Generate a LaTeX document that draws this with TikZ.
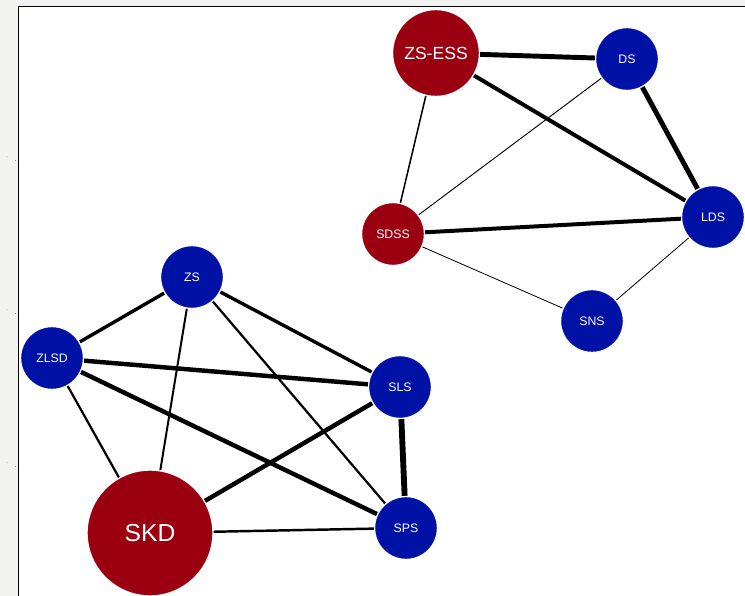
\documentclass[tikz,border=0pt]{standalone}
\usepackage{fontspec}
\setmainfont{Liberation Sans}
\definecolor{hubred}{HTML}{9B0010}
\definecolor{nodeblue}{HTML}{0012A6}
\definecolor{panelgrey}{HTML}{F2F2F0}

\tikzset{
  group/.style={circle, draw=white, line width=1.2pt, text=white, inner sep=0pt},
  member/.style={group, fill=nodeblue, minimum size=1.89cm, font=\fontsize{10.5}{12}\selectfont},
  hub/.style={group, fill=hubred},
}

\begin{document}
\begin{tikzpicture}[x=0.03cm, y=-0.03cm]

  % panel
  \useasboundingbox (0,0) rectangle (745,596);
  \fill[panelgrey] (0,0) rectangle (745,596);
  \fill[white] (18.5,6.5) rectangle (745,596);
  \draw[line width=1.7pt] (18.5,6.5) -- (745,6.5);
  \draw[line width=1.1pt] (18.5,6.5) -- (18.5,596);
  \foreach \y in {157,310,463} {
      \fill[gray] (7,\y) circle (0.5);
      \fill[gray] (15.7,\y+3.5) circle (0.5);
    }

  % upper cluster
  \node[hub, minimum size=2.61cm, font=\fontsize{15}{18}\selectfont] (zsess) at (436,53) {ZS-ESS};
  \node[member] (ds) at (627,59) {DS};
  \node[hub, minimum size=1.89cm, font=\fontsize{10.5}{12}\selectfont] (sdss) at (393,234) {SDSS};
  \node[member] (lds) at (713,217) {LDS};
  \node[member] (sns) at (592,321) {SNS};

  % lower cluster
  \node[member] (zs) at (192,277) {ZS};
  \node[member] (zlsd) at (52,358) {ZLSD};
  \node[member] (sls) at (400,387) {SLS};
  \node[member] (sps) at (406,528) {SPS};
  \node[hub, minimum size=3.78cm, font=\fontsize{21}{25}\selectfont] (skd) at (150,533) {SKD};

  % links
  \foreach \a/\b/\w in {zsess/ds/4.2, ds/lds/4.2, zsess/lds/3.4, sdss/lds/3.4,
                        zsess/sdss/1.3, ds/sdss/0.8, sdss/sns/0.7, lds/sns/0.7,
                        sls/sps/5, zlsd/sls/3.8, zlsd/sps/3.8, skd/sls/3.8,
                        zs/zlsd/2.9, zs/sls/2.9, zs/skd/1.7, zs/sps/1.9,
                        zlsd/skd/1.9, skd/sps/2.1} {
      \draw[line width=\w pt] (\a) -- (\b);
    }
\end{tikzpicture}
\end{document}
